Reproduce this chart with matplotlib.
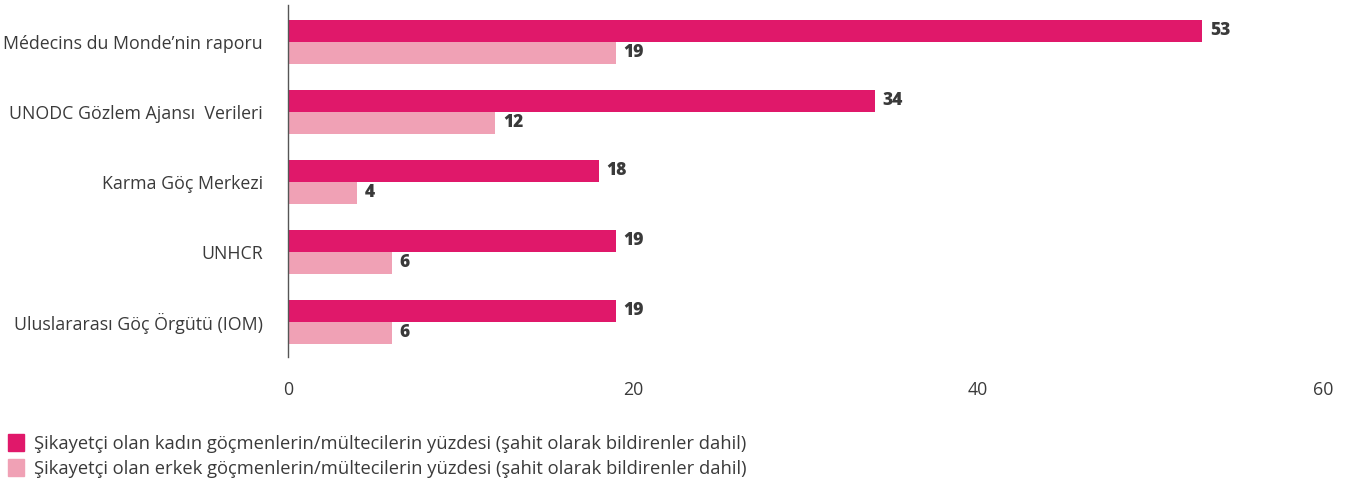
import matplotlib.pyplot as plt
import numpy as np
from matplotlib.patches import Patch

plt.rcParams['font.family'] = ['Open Sans', 'DejaVu Sans']

# veriler
kaynaklar = ["Médecins du Monde’nin raporu", "UNODC Gözlem Ajansı  Verileri",
             "Karma Göç Merkezi", "UNHCR", "Uluslararası Göç Örgütü (IOM)"]
kadin = [53, 34, 18, 19, 19]
erkek = [19, 12, 4, 6, 6]
etiketler = ["Şikayetçi olan kadın göçmenlerin/mültecilerin yüzdesi (şahit olarak bildirenler dahil)",
             "Şikayetçi olan erkek göçmenlerin/mültecilerin yüzdesi (şahit olarak bildirenler dahil)"]

koyu = '#E0186A'
acik = '#F0A1B5'
yazi = '#3a3a3a'

fig = plt.figure(figsize=(13.47, 4.83), dpi=100)
ax = fig.add_axes([0.2138, 0.261, 0.7685, 0.729])

y = np.arange(len(kaynaklar))
h = 0.315
b1 = ax.barh(y - h / 2, kadin, height=h, color=koyu)
b2 = ax.barh(y + h / 2, erkek, height=h, color=acik)

for bars in (b1, b2):
    for r in bars:
        ax.text(r.get_width() + 0.45, r.get_y() + r.get_height() / 2, f"{int(r.get_width())}",
                va='center', ha='left', fontsize=12.5, fontweight='heavy', color=yazi)

ax.set_xlim(0, 60)
ax.set_ylim(4.5, -0.53)
ax.set_yticks(y)
ax.set_yticklabels(kaynaklar, fontsize=12.8, color=yazi)
ax.set_xticks([0, 20, 40, 60])
ax.tick_params(axis='x', length=0, pad=17, labelsize=12.8, labelcolor=yazi)
ax.tick_params(axis='y', length=0, pad=18)
for s in ['top', 'right', 'bottom']:
    ax.spines[s].set_visible(False)
ax.spines['left'].set_color('#555555')
ax.spines['left'].set_linewidth(1)

handles = [Patch(color=koyu), Patch(color=acik)]
fig.legend(handles, etiketler, loc='lower left', bbox_to_anchor=(0.004, 0.005), frameon=False,
           fontsize=13.2, handlelength=0.85, handleheight=1.0, handletextpad=0.55,
           labelspacing=0.35, labelcolor=yazi, borderaxespad=0.0, borderpad=0.15)

fig.savefig('out.png', dpi=100)
